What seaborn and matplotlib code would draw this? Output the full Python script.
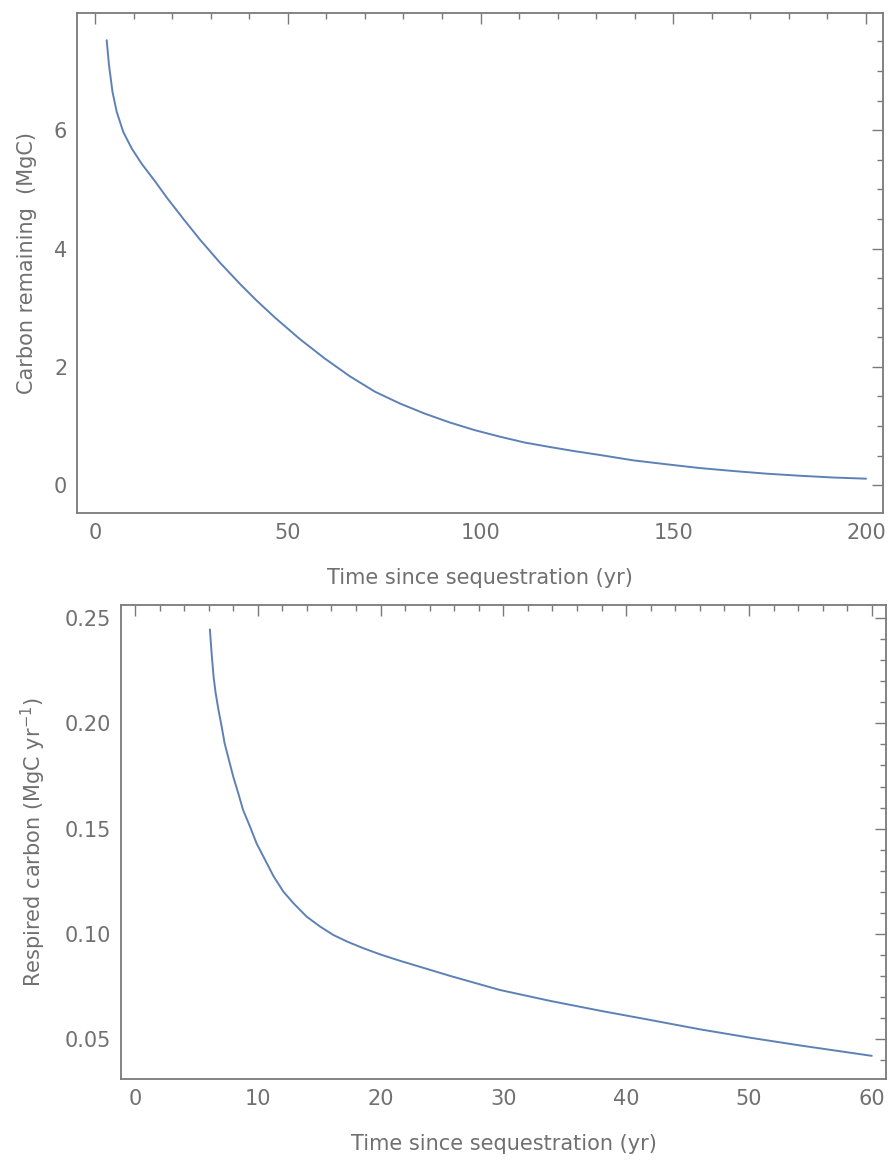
import numpy as np
import pandas as pd
import matplotlib
matplotlib.use("Agg")
import matplotlib.pyplot as plt
from matplotlib.ticker import MultipleLocator, FormatStrFormatter
import seaborn as sns

#============================== data ==============================
# carbon remaining in the pool (MgC) vs years since sequestration
t_remain = [3.0, 3.6, 4.5, 5.6, 7.3, 9.5, 12.1, 15.5, 18.6, 22.9, 27.2, 32.4,
            37.6, 41.9, 46.7, 53.1, 59.6, 66.1, 72.6, 79.1, 85.5, 92.0, 98.5,
            105.0, 111.5, 118.0, 124.4, 131.0, 139.6, 148.0, 156.8, 165.5,
            174.1, 182.7, 191.4, 200.0]
c_remain = [7.52, 7.10, 6.65, 6.31, 5.97, 5.69, 5.43, 5.14, 4.86, 4.50, 4.15, 3.76,
            3.40, 3.12, 2.83, 2.47, 2.14, 1.84, 1.58, 1.38, 1.21, 1.06, 0.93,
            0.82, 0.72, 0.645, 0.575, 0.51, 0.42, 0.355, 0.29, 0.24,
            0.195, 0.16, 0.13, 0.11]

# respired carbon (MgC / yr) vs years since sequestration
t_resp = [6.1, 6.24, 6.4, 6.57, 6.8, 7.06, 7.3, 7.65, 8.0, 8.41, 8.8, 9.37, 9.9,
          10.6, 11.3, 12.08, 12.9, 13.98, 15.07, 16.15, 17.3, 18.6, 20.0, 21.6,
          25.7, 29.7, 33.8, 37.9, 41.9, 46.0, 50.1, 54.2, 60.0]
r_resp = [0.2446, 0.2332, 0.2221, 0.2143, 0.2063, 0.1984, 0.1905, 0.1826, 0.1747,
          0.1668, 0.1589, 0.1509, 0.1430, 0.1351, 0.1272, 0.1201, 0.1146, 0.1082,
          0.1035, 0.0995, 0.0963, 0.0932, 0.0902, 0.0872, 0.0800, 0.0734, 0.0682,
          0.0635, 0.0592, 0.0547, 0.0507, 0.0470, 0.0421]

remain_df = pd.DataFrame({"t": t_remain, "c": c_remain})
resp_df = pd.DataFrame({"t": t_resp, "r": r_resp})

line_col = "#5E81B5"
frame_col = "#7a7a7a"
text_col = "#707070"

sns.set_style("white")
plt.rcParams['font.family'] = ['DejaVu Sans']
plt.rcParams['font.size'] = 15

fig = plt.figure(figsize=(8.9, 11.62), dpi=100)
ax1 = fig.add_axes([77/890, 1-513/1162, (883-77)/890, (513-13)/1162])
ax2 = fig.add_axes([121/890, 1-1079/1162, (886-121)/890, (1079-605)/1162])


def mma_frame(ax):
    # mathematica style frame: grey box, inward ticks on every side
    for sp in ax.spines.values():
        sp.set_color(frame_col)
        sp.set_linewidth(1.3)
        sp.set_visible(True)
    ax.tick_params(which="both", direction="in", top=True, right=True,
                   color=frame_col, width=1.0, labelcolor=text_col, labelsize=15,
                   pad=7)
    ax.tick_params(which="major", length=8)
    ax.tick_params(which="minor", length=4.5)
    ax.grid(False)


#============================== top panel =================================
sns.lineplot(data=remain_df, x="t", y="c", ax=ax1, color=line_col, lw=1.4)
ax1.set_xlim(-4.7, 204.4)
ax1.set_ylim(-0.47, 7.98)
ax1.xaxis.set_major_locator(MultipleLocator(50))
ax1.xaxis.set_minor_locator(MultipleLocator(10))
ax1.yaxis.set_major_locator(MultipleLocator(2))
ax1.yaxis.set_minor_locator(MultipleLocator(0.5))
mma_frame(ax1)
ax1.set_xlabel("Time since sequestration (yr)", color=text_col, fontsize=15, labelpad=18)
ax1.set_ylabel("Carbon remaining  (MgC)", color=text_col, fontsize=15, labelpad=12)

#============================== bottom panel =================================
sns.lineplot(data=resp_df, x="t", y="r", ax=ax2, color=line_col, lw=1.4)
ax2.set_xlim(-1.14, 61.16)
ax2.set_ylim(0.0311, 0.2562)
ax2.xaxis.set_major_locator(MultipleLocator(10))
ax2.xaxis.set_minor_locator(MultipleLocator(2))
ax2.yaxis.set_major_locator(MultipleLocator(0.05))
ax2.yaxis.set_minor_locator(MultipleLocator(0.01))
ax2.yaxis.set_major_formatter(FormatStrFormatter("%.2f"))
mma_frame(ax2)
ax2.set_xlabel("Time since sequestration (yr)", color=text_col, fontsize=15, labelpad=18)
ax2.set_ylabel(r"Respired carbon (MgC yr$^{-1}$)", color=text_col, fontsize=15, labelpad=12)

fig.savefig("out.png", dpi=100)
